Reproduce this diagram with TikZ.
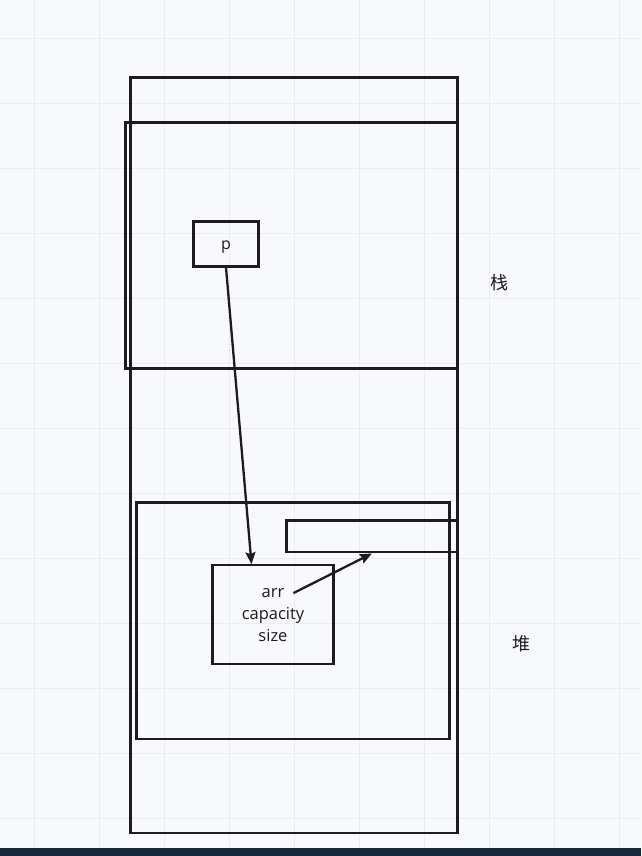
\documentclass[tikz,border=0pt]{standalone}
\usepackage{fontspec}
\setmainfont{Open Sans}
\newfontfamily\cjk{Noto Sans CJK SC}
\usetikzlibrary{arrows.meta,calc}
\definecolor{PageBg}{HTML}{F8F9FA}
\definecolor{GridLine}{HTML}{EAECEE}
\definecolor{InkDark}{HTML}{1E1A1D}
\definecolor{BarDark}{HTML}{172A3D}

\begin{document}
\begin{tikzpicture}[
  x=1pt,y=-1pt,
  box/.style={draw=InkDark,line width=2.3pt,inner sep=0pt,anchor=north west},
  arrow/.style={-{Stealth[length=12pt,width=10pt,inset=2pt]},line width=2.3pt,draw=InkDark},
  zone/.style={text=InkDark,font=\cjk\fontsize{18}{18}\selectfont}
]
  % page and grid
  \fill[PageBg] (0,0) rectangle (641,848);
  \fill[BarDark] (0,848) rectangle (641,856);
  \foreach \gx in {34,99,...,619}
    \draw[GridLine,line width=1pt] (\gx,0) -- (\gx,848);
  \foreach \gy in {38,103,...,818}
    \draw[GridLine,line width=1pt] (0,\gy) -- (641,\gy);

  % memory regions
  \node[box,minimum width=327pt,minimum height=756pt] (memory) at (129,76) {};
  \node[box,minimum width=332pt,minimum height=246pt] (stack) at (124,121) {};
  \node[box,minimum width=313pt,minimum height=237pt] (heap) at (135,501) {};

  % objects
  \node[box,minimum width=65pt,minimum height=45pt,text=InkDark,text height=10pt,text depth=0pt,
        font=\fontsize{16}{16}\selectfont] (p) at (192,220) {p};
  \node[box,minimum width=121pt,minimum height=99pt,align=center,text=InkDark,
        font=\fontsize{16.5}{22}\selectfont] (obj) at (211,564) {arr\\capacity\\size};
  \node[box,minimum width=171pt,minimum height=32pt] (buffer) at (285,519) {};
  \coordinate (arrfield) at (293,593);

  \node[zone] (stacklabel) at (499,282) {栈};
  \node[zone] (heaplabel) at (521,644) {堆};

  \draw[arrow] (p.south) -- ([xshift=-21.5pt]obj.north);
  \draw[arrow] (arrfield) -- (buffer.south);
\end{tikzpicture}
\end{document}
